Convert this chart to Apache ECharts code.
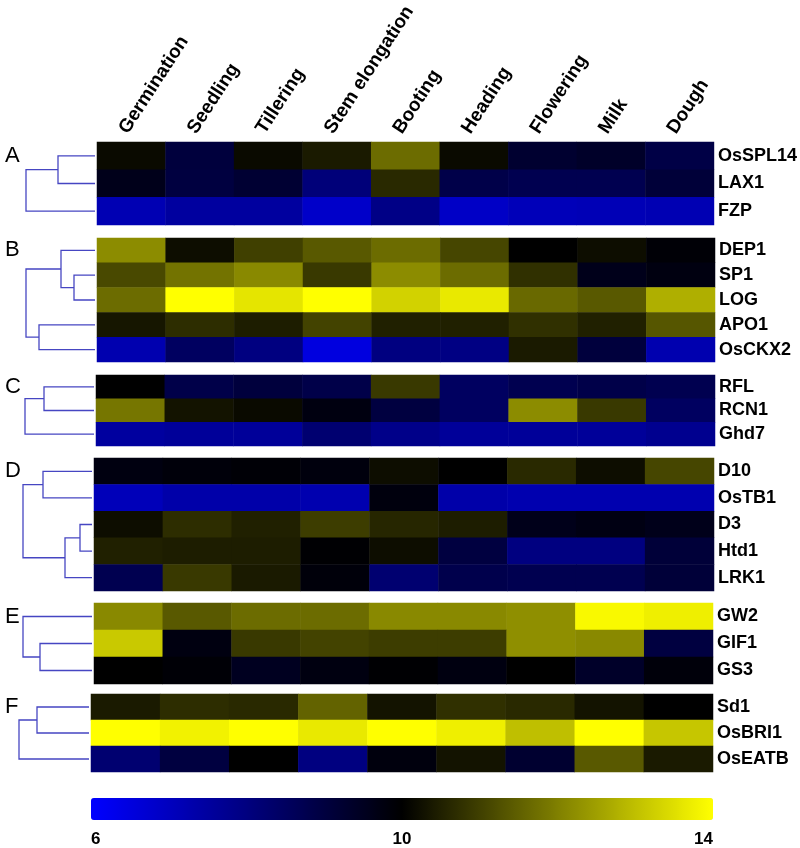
<!DOCTYPE html>
<html>
<head>
<meta charset="utf-8">
<script src="https://cdn.jsdelivr.net/npm/echarts@6/dist/echarts.min.js"></script>
<style>
  html, body { margin: 0; padding: 0; background: #fff; }
  #chart { width: 800px; height: 848px; }
</style>
</head>
<body>
<div id="chart"></div>
<script>
// stages on the x axis
var stages = ['Germination', 'Seedling', 'Tillering', 'Stem elongation', 'Booting', 'Heading', 'Flowering', 'Milk', 'Dough'];

// expression values (log2), one row per gene
var genesA = ['OsSPL14', 'LAX1', 'FZP'];
var valuesA = [
    [10.15, 9.05, 10.15, 10.4, 11.7, 10.15, 9.25, 9.35, 8.9],
    [9.6, 9.0, 9.2, 8.1, 10.65, 8.85, 8.75, 8.75, 9.1],
    [7.2, 7.5, 7.5, 6.85, 7.9, 6.9, 7.1, 7.15, 7.2]
];
var genesB = ['DEP1', 'SP1', 'LOG', 'APO1', 'OsCKX2'];
var valuesB = [
    [12.2, 10.2, 11.0, 11.4, 11.7, 11.1, 10.0, 10.2, 9.9],
    [11.15, 11.8, 12.15, 10.9, 12.2, 11.7, 10.75, 9.6, 9.75],
    [11.7, 14.0, 13.6, 14.0, 13.3, 13.65, 11.65, 11.4, 12.75],
    [10.35, 10.7, 10.45, 11.05, 10.5, 10.5, 10.75, 10.5, 11.35],
    [7.25, 8.5, 8.0, 6.5, 8.0, 7.95, 10.4, 9.05, 7.25]
];
var genesC = ['RFL', 'RCN1', 'Ghd7'];
var valuesC = [
    [10.0, 8.85, 9.05, 8.85, 10.9, 8.5, 8.75, 8.85, 8.75],
    [11.85, 10.3, 10.15, 9.75, 9.0, 8.5, 12.2, 10.9, 8.5],
    [7.5, 7.6, 7.6, 8.25, 7.85, 7.6, 7.6, 7.6, 7.75]
];
var genesD = ['D10', 'OsTB1', 'D3', 'Htd1', 'LRK1'];
var valuesD = [
    [9.75, 9.85, 9.9, 9.8, 10.2, 10.0, 10.65, 10.2, 11.1],
    [7.1, 7.35, 7.35, 7.25, 9.8, 7.35, 7.25, 7.25, 7.25],
    [10.2, 10.7, 10.5, 10.95, 10.6, 10.45, 9.6, 9.7, 9.6],
    [10.5, 10.45, 10.45, 9.95, 10.2, 9.0, 8.0, 8.0, 9.1],
    [8.75, 10.9, 10.4, 9.85, 8.25, 8.8, 8.75, 8.75, 9.1]
];
var genesE = ['GW2', 'GIF1', 'GS3'];
var valuesE = [
    [12.15, 11.4, 11.7, 11.7, 12.15, 12.15, 12.25, 13.9, 13.75],
    [13.15, 9.75, 10.9, 11.05, 10.95, 10.95, 12.25, 12.15, 9.0],
    [10.0, 9.9, 9.5, 9.75, 9.95, 9.75, 10.0, 9.35, 9.85]
];
var genesF = ['Sd1', 'OsBRI1', 'OsEATB'];
var valuesF = [
    [10.4, 10.7, 10.65, 11.55, 10.3, 10.75, 10.65, 10.3, 10.0],
    [14.0, 13.8, 14.0, 13.65, 14.0, 13.75, 13.0, 14.0, 13.1],
    [8.25, 9.0, 10.0, 8.0, 9.8, 10.3, 9.25, 11.4, 10.4]
];

// dendrograms: leaves are row indexes, h = merge height
var treeA = {h: 69, c: [{h: 37, c: [0, 1]}, 2]};
var treeB = {h: 69, c: [{h: 34, c: [0, {h: 21, c: [1, 2]}]}, {h: 56, c: [3, 4]}]};
var treeC = {h: 69, c: [{h: 50, c: [0, 1]}, 2]};
var treeD = {h: 69, c: [{h: 49, c: [0, 1]}, {h: 27, c: [{h: 12, c: [2, 3]}, 4]}]};
var treeE = {h: 69, c: [0, {h: 52, c: [1, 2]}]};
var treeF = {h: 70, c: [{h: 52, c: [0, 1]}, 2]};

var colorTicks = [6, 10, 14];

var panels = [
    {letter: 'A', genes: genesA, values: valuesA, tree: treeA, left: 97, right: 715, top: 142, bottom: 225},
    {letter: 'B', genes: genesB, values: valuesB, tree: treeB, left: 97, right: 715, top: 238, bottom: 362},
    {letter: 'C', genes: genesC, values: valuesC, tree: treeC, left: 96, right: 715, top: 375, bottom: 446},
    {letter: 'D', genes: genesD, values: valuesD, tree: treeD, left: 94, right: 714, top: 458, bottom: 591},
    {letter: 'E', genes: genesE, values: valuesE, tree: treeE, left: 94, right: 713, top: 603, bottom: 684},
    {letter: 'F', genes: genesF, values: valuesF, tree: treeF, left: 91, right: 713, top: 694, bottom: 772}
];

var FONT = '"Liberation Sans", Arial, Helvetica, sans-serif';
var DENDRO_W = 70;

function walk(node, segs) {
    if (typeof node === 'number') return {x: 0, y: node};
    var a = walk(node.c[0], segs);
    var b = walk(node.c[1], segs);
    segs.push({coords: [[a.x, a.y], [node.h, a.y], [node.h, b.y], [b.x, b.y]]});
    return {x: node.h, y: (a.y + b.y) / 2};
}

var grid = [], xAxis = [], yAxis = [], series = [], graphic = [], heatIdx = [];

panels.forEach(function (p, i) {
    var n = p.genes.length;
    var h = p.bottom - p.top;
    // heatmap grid
    grid.push({left: p.left, top: p.top, width: p.right - p.left, height: h});
    xAxis.push({
        type: 'category', gridIndex: 2 * i, data: stages, position: 'top',
        axisLine: {show: false}, axisTick: {show: false}, splitLine: {show: false},
        axisLabel: {
            show: i === 0, rotate: -57, margin: 5, interval: 0, align: 'left', verticalAlign: 'bottom',
            fontSize: 19, fontWeight: 'bold', color: '#000', fontFamily: FONT
        }
    });
    yAxis.push({
        type: 'category', gridIndex: 2 * i, data: p.genes, inverse: true, position: 'right',
        axisLine: {show: false}, axisTick: {show: false}, splitLine: {show: false},
        axisLabel: {margin: 4, fontSize: 18, fontWeight: 'bold', color: '#000', fontFamily: FONT}
    });
    var cells = [];
    p.values.forEach(function (row, r) {
        row.forEach(function (v, c) { cells.push([c, r, v]); });
    });
    heatIdx.push(series.length);
    series.push({
        type: 'heatmap', xAxisIndex: 2 * i, yAxisIndex: 2 * i, data: cells,
        silent: true, emphasis: {disabled: true}
    });

    // dendrogram grid
    grid.push({left: p.left - DENDRO_W - 2, top: p.top, width: DENDRO_W, height: h});
    xAxis.push({type: 'value', gridIndex: 2 * i + 1, min: 0, max: DENDRO_W, inverse: true, show: false});
    yAxis.push({type: 'value', gridIndex: 2 * i + 1, min: -0.5, max: n - 0.5, inverse: true, show: false});
    var segs = [];
    walk(p.tree, segs);
    series.push({
        type: 'lines', coordinateSystem: 'cartesian2d', polyline: true,
        xAxisIndex: 2 * i + 1, yAxisIndex: 2 * i + 1, silent: true,
        lineStyle: {color: '#4646c2', width: 1.3, opacity: 1},
        data: segs
    });

    graphic.push({
        type: 'text', left: 5, top: p.top + h / (2 * n) - 11,
        style: {text: p.letter, fontSize: 22, fontFamily: FONT, fill: '#000'}
    });
});

// colour bar tick labels
var cbGrid = grid.length;
grid.push({left: 91, top: 798, width: 622, height: 22});
xAxis.push({
    type: 'value', gridIndex: cbGrid, min: colorTicks[0], max: colorTicks[colorTicks.length - 1], interval: 4,
    axisLine: {show: false}, axisTick: {show: false}, splitLine: {show: false},
    axisLabel: {
        margin: 13, fontSize: 17, fontWeight: 'bold', color: '#000', fontFamily: FONT,
        alignMinLabel: 'left', alignMaxLabel: 'right'
    }
});
yAxis.push({type: 'value', gridIndex: cbGrid, show: false});
series.push({type: 'scatter', xAxisIndex: cbGrid, yAxisIndex: cbGrid, data: []});

var myChart = echarts.init(document.getElementById('chart'), null, {renderer: 'canvas'});
myChart.setOption({
    backgroundColor: '#fff',
    animation: false,
    grid: grid,
    xAxis: xAxis,
    yAxis: yAxis,
    visualMap: {
        type: 'continuous', min: 6, max: 14, seriesIndex: heatIdx,
        orient: 'horizontal', left: 91, top: 798, padding: 0,
        itemWidth: 22, itemHeight: 622, calculable: false, hoverLink: false,
        text: null, showLabel: false,
        inRange: {color: ['#0000ff', '#000000', '#ffff00']}
    },
    graphic: graphic,
    series: series
});
</script>
</body>
</html>
